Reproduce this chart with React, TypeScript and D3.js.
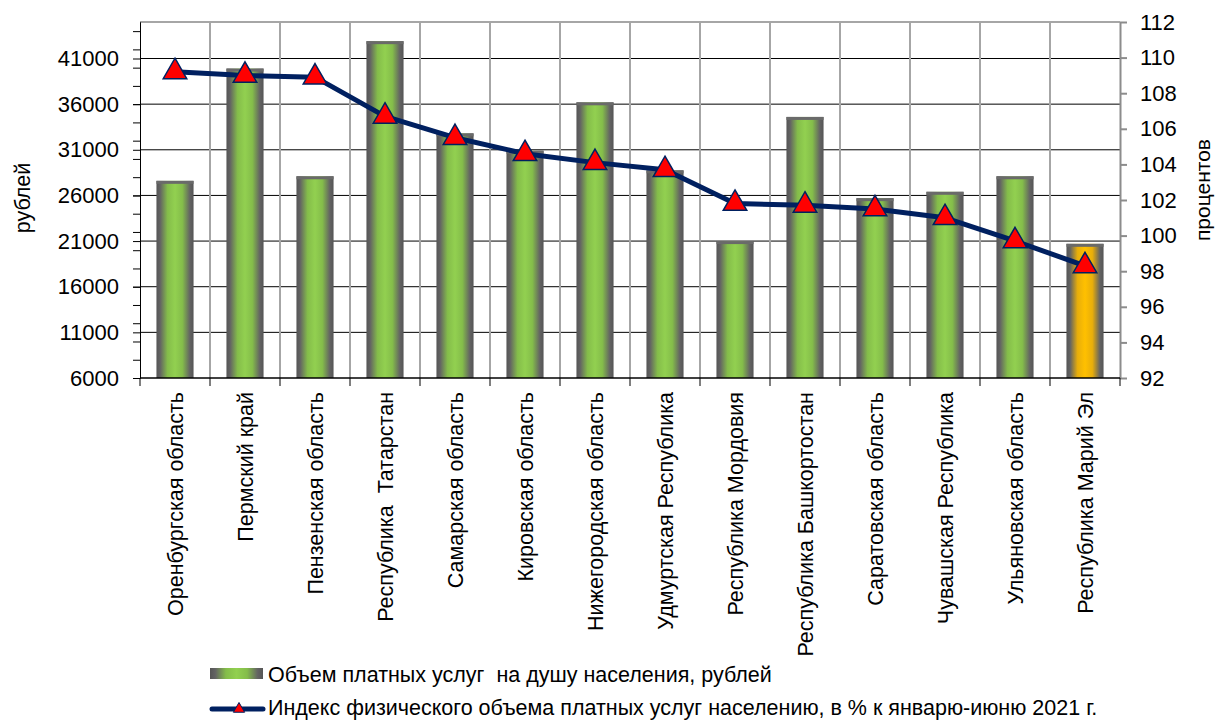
import React, { useRef, useEffect } from 'react';
import * as d3 from 'd3';

const regions = [
  'Оренбургская область',
  'Пермский край',
  'Пензенская область',
  'Республика  Татарстан',
  'Самарская область',
  'Кировская область',
  'Нижегородская область',
  'Удмуртская Республика',
  'Республика Мордовия',
  'Республика Башкортостан',
  'Саратовская область',
  'Чувашская Республика',
  'Ульяновская область',
  'Республика Марий Эл',
];

// рублей на душу населения
const servicesPerCapita = [27600, 39900, 28100, 42900, 32800, 30900, 36200, 28750, 21000, 34600, 25700, 26400, 28100, 20700];

// % к январю-июню 2021 г.
const volumeIndex = [109.2, 109.0, 108.9, 106.7, 105.5, 104.6, 104.1, 103.7, 101.8, 101.7, 101.5, 101.0, 99.7, 98.3];

const rubleTicks = [6000, 11000, 16000, 21000, 26000, 31000, 36000, 41000];
const rubleMinorTicks = [6000, 8000, 10000, 12000, 14000, 16000, 18000, 20000, 22000, 24000, 26000, 28000, 30000, 32000, 34000, 36000, 38000, 40000, 42000, 44000];
const percentTicks = [92, 94, 96, 98, 100, 102, 104, 106, 108, 110, 112];

const highlighted = 'Республика Марий Эл';
const barLabel = 'Объем платных услуг  на душу населения, рублей';
const lineLabel = 'Индекс физического объема платных услуг населению, в % к январю-июню 2021 г.';

const FONT = '"Liberation Sans", Arial, sans-serif';

const ServicesChart: React.FC = () => {
  const svgRef = useRef<SVGSVGElement>(null);

  useEffect(() => {
    if (!svgRef.current) return;
    document.body.style.margin = '0';

    const svg = d3.select(svgRef.current);
    svg.selectAll('*').remove();

    const W = 1216, H = 720;
    const margin = { top: 22, right: 96, bottom: 342, left: 140 };
    const width = W - margin.left - margin.right;
    const height = H - margin.top - margin.bottom;

    const defs = svg.append('defs');
    const makeGradient = (id: string, mid: string, edge: string) => {
      const g = defs.append('linearGradient').attr('id', id).attr('x1', '0%').attr('x2', '100%').attr('y1', '0%').attr('y2', '0%');
      [
        [0, '#555555'],
        [0.1, '#636363'],
        [0.3, edge],
        [0.5, mid],
        [0.7, edge],
        [0.9, '#636363'],
        [1, '#555555'],
      ].forEach(([o, c]) => g.append('stop').attr('offset', o as number).attr('stop-color', c as string));
    };
    makeGradient('barGreen', '#92d050', '#84bd4a');
    makeGradient('barYellow', '#ffc000', '#e8ae0a');

    const g = svg.append('g').attr('transform', `translate(${margin.left},${margin.top})`);

    const x = d3.scaleBand<string>().domain(regions).range([0, width]).padding(0);
    const yL = d3.scaleLinear().domain([6000, 45000]).range([height, 0]);
    const yR = d3.scaleLinear().domain([92, 112]).range([height, 0]);
    const barW = x.bandwidth() * 0.53;

    // grid
    g.append('line').attr('x1', 0).attr('x2', width).attr('y1', 0).attr('y2', 0)
      .attr('stroke', '#a6a6a6').attr('stroke-width', 2);
    g.selectAll('line.hgrid')
      .data(rubleTicks.slice(1))
      .join('line')
      .attr('class', 'hgrid')
      .attr('x1', 0).attr('x2', width)
      .attr('y1', d => yL(d)).attr('y2', d => yL(d))
      .attr('stroke', '#000').attr('stroke-width', 1);
    g.selectAll('line.vgrid')
      .data(regions.slice(1))
      .join('line')
      .attr('class', 'vgrid')
      .attr('x1', d => x(d)!).attr('x2', d => x(d)!)
      .attr('y1', 0).attr('y2', height)
      .attr('stroke', '#a6a6a6').attr('stroke-width', 2);

    // bars
    const bars = g.selectAll('g.bar')
      .data(regions)
      .join('g')
      .attr('class', 'bar')
      .attr('transform', d => `translate(${x(d)! + (x.bandwidth() - barW) / 2},0)`);
    bars.append('rect')
      .attr('x', 0)
      .attr('y', (d, i) => yL(servicesPerCapita[i]))
      .attr('width', barW)
      .attr('height', (d, i) => height - yL(servicesPerCapita[i]))
      .attr('fill', d => (d === highlighted ? 'url(#barYellow)' : 'url(#barGreen)'));
    bars.append('rect')
      .attr('x', 0)
      .attr('y', (d, i) => yL(servicesPerCapita[i]))
      .attr('width', barW)
      .attr('height', 3)
      .attr('fill', '#6a6a6a');

    // index line
    const cx = (i: number) => x(regions[i])! + x.bandwidth() / 2;
    const line = d3.line<number>().x((d, i) => cx(i)).y(d => yR(d));
    g.append('path')
      .datum(volumeIndex)
      .attr('fill', 'none')
      .attr('stroke', '#002060')
      .attr('stroke-width', 5)
      .attr('stroke-linejoin', 'round')
      .attr('d', line);

    const tri = d3.symbol().type(d3.symbolTriangle).size(240);
    g.selectAll('path.marker')
      .data(volumeIndex)
      .join('path')
      .attr('class', 'marker')
      .attr('transform', (d, i) => `translate(${cx(i)},${yR(d)})`)
      .attr('d', tri)
      .attr('fill', '#ff0000')
      .attr('stroke', '#002060')
      .attr('stroke-width', 1.5);

    // axes
    const styleText = (sel: d3.Selection<any, any, any, any>) =>
      sel.selectAll('text').attr('fill', '#000').style('font-size', '22px').style('font-family', FONT);

    g.append('g')
      .call(d3.axisLeft(yL).tickValues(rubleMinorTicks).tickSize(7).tickSizeOuter(0).tickFormat(() => ''))
      .call(a => a.selectAll('line,path').attr('stroke', '#000'));
    g.append('g')
      .call(d3.axisLeft(yL).tickValues(rubleTicks).tickSize(7).tickSizeOuter(0).tickPadding(14).tickFormat(d3.format('d')))
      .call(a => a.selectAll('line,path').attr('stroke', '#000'))
      .call(styleText);

    g.append('g')
      .attr('transform', `translate(${width},0)`)
      .call(d3.axisRight(yR).tickValues(percentTicks).tickSize(7).tickSizeOuter(0).tickPadding(13).tickFormat(d3.format('d')))
      .call(a => a.selectAll('line,path').attr('stroke', '#8c8c8c').attr('stroke-width', 2))
      .call(styleText);

    // category axis
    g.append('line').attr('x1', 0).attr('x2', width).attr('y1', height).attr('y2', height)
      .attr('stroke', '#000').attr('stroke-width', 1.5);
    g.selectAll('line.xtick')
      .data([...regions, ''])
      .join('line')
      .attr('class', 'xtick')
      .attr('x1', (d, i) => i * x.step()).attr('x2', (d, i) => i * x.step())
      .attr('y1', height).attr('y2', height + 8)
      .attr('stroke', '#000');
    g.selectAll('text.cat')
      .data(regions)
      .join('text')
      .attr('class', 'cat')
      .attr('transform', d => `translate(${x(d)! + x.bandwidth() / 2},${height + 14}) rotate(-90)`)
      .attr('text-anchor', 'end')
      .attr('dy', '0.35em')
      .style('white-space', 'pre')
      .style('font-size', '21.5px')
      .style('font-family', FONT)
      .attr('fill', '#000')
      .text(d => d);

    // axis titles
    svg.append('text')
      .attr('transform', `translate(22,${margin.top + 176}) rotate(-90)`)
      .attr('text-anchor', 'middle')
      .attr('dy', '0.35em')
      .style('font-size', '21.5px')
      .style('font-family', FONT)
      .text('рублей');
    svg.append('text')
      .attr('transform', `translate(1203,${margin.top + 168}) rotate(-90)`)
      .attr('text-anchor', 'middle')
      .attr('dy', '0.35em')
      .style('font-size', '21px')
      .style('font-family', FONT)
      .text('процентов');

    // legend
    const legend = svg.append('g').attr('transform', 'translate(210,0)');
    legend.append('rect')
      .attr('x', 0).attr('y', 668).attr('width', 53).attr('height', 11)
      .attr('fill', 'url(#barGreen)');
    legend.append('text')
      .attr('x', 58).attr('y', 682)
      .style('white-space', 'pre')
      .style('font-size', '21.5px')
      .style('font-family', FONT)
      .text(barLabel);
    legend.append('line')
      .attr('x1', 2).attr('x2', 53).attr('y1', 709).attr('y2', 709)
      .attr('stroke', '#002060').attr('stroke-width', 5).attr('stroke-linecap', 'round');
    legend.append('path')
      .attr('transform', 'translate(29,709)')
      .attr('d', d3.symbol().type(d3.symbolTriangle).size(55)())
      .attr('fill', '#ff0000')
      .attr('stroke', '#002060')
      .attr('stroke-width', 1);
    legend.append('text')
      .attr('x', 58).attr('y', 715)
      .style('font-size', '21.5px')
      .style('font-family', FONT)
      .text(lineLabel);
  }, []);

  return <svg ref={svgRef} width={1216} height={720} style={{ display: 'block' }}></svg>;
};

export default function App() {
  return <ServicesChart />;
}
